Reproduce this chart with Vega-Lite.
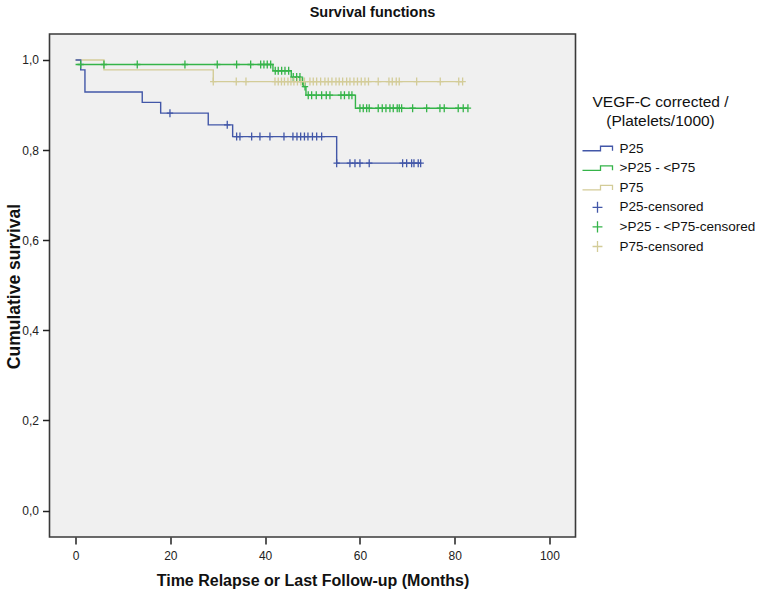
{
  "$schema": "https://vega.github.io/schema/vega-lite/v6.json",
  "width": 526,
  "height": 503,
  "autosize": "none",
  "padding": {"left": 49.5, "top": 34, "right": 181.5, "bottom": 57},
  "background": "white",
  "config": {
    "font": "Liberation Sans",
    "view": {"fill": "#f0f0f0", "stroke": "#3a3a3a", "strokeWidth": 1.6}
  },
  "title": {"text": "Survival functions", "fontSize": 14.5, "fontWeight": "bold", "font": "Liberation Sans", "color": "#111", "anchor": "middle", "dx": 60, "offset": 14},
  "datasets": {
    "curves": [
      {"series": "P25", "t": 0, "S": 1.0},
      {"series": "P25", "t": 1.08, "S": 0.978},
      {"series": "P25", "t": 1.98, "S": 0.929},
      {"series": "P25", "t": 14.07, "S": 0.906},
      {"series": "P25", "t": 17.96, "S": 0.882},
      {"series": "P25", "t": 28.0, "S": 0.856},
      {"series": "P25", "t": 33.15, "S": 0.83},
      {"series": "P25", "t": 55.1, "S": 0.771},
      {"series": "P25", "t": 72.82, "S": 0.771},
      {"series": ">P25 - <P75", "t": 0, "S": 0.99},
      {"series": ">P25 - <P75", "t": 41.65, "S": 0.976},
      {"series": ">P25 - <P75", "t": 45.52, "S": 0.962},
      {"series": ">P25 - <P75", "t": 47.5, "S": 0.952},
      {"series": ">P25 - <P75", "t": 48.09, "S": 0.941},
      {"series": ">P25 - <P75", "t": 48.62, "S": 0.922},
      {"series": ">P25 - <P75", "t": 59.06, "S": 0.893},
      {"series": ">P25 - <P75", "t": 82.8, "S": 0.893},
      {"series": "P75", "t": 0, "S": 1.0},
      {"series": "P75", "t": 5.99, "S": 0.978},
      {"series": "P75", "t": 29.06, "S": 0.952},
      {"series": "P75", "t": 81.68, "S": 0.952}
    ],
    "cens": [
      {"series": "P25-censored", "t": 19.92, "S": 0.882},
      {"series": "P25-censored", "t": 32.01, "S": 0.856},
      {"series": "P25-censored", "t": 33.99, "S": 0.83},
      {"series": "P25-censored", "t": 34.69, "S": 0.83},
      {"series": "P25-censored", "t": 37.16, "S": 0.83},
      {"series": "P25-censored", "t": 38.91, "S": 0.83},
      {"series": "P25-censored", "t": 41.02, "S": 0.83},
      {"series": "P25-censored", "t": 43.98, "S": 0.83},
      {"series": "P25-censored", "t": 45.87, "S": 0.83},
      {"series": "P25-censored", "t": 46.72, "S": 0.83},
      {"series": "P25-censored", "t": 47.5, "S": 0.83},
      {"series": "P25-censored", "t": 48.3, "S": 0.83},
      {"series": "P25-censored", "t": 49.04, "S": 0.83},
      {"series": "P25-censored", "t": 49.99, "S": 0.83},
      {"series": "P25-censored", "t": 50.88, "S": 0.83},
      {"series": "P25-censored", "t": 51.93, "S": 0.83},
      {"series": "P25-censored", "t": 55.1, "S": 0.771},
      {"series": "P25-censored", "t": 57.9, "S": 0.771},
      {"series": "P25-censored", "t": 58.96, "S": 0.771},
      {"series": "P25-censored", "t": 60.01, "S": 0.771},
      {"series": "P25-censored", "t": 61.97, "S": 0.771},
      {"series": "P25-censored", "t": 69.02, "S": 0.771},
      {"series": "P25-censored", "t": 69.87, "S": 0.771},
      {"series": "P25-censored", "t": 70.92, "S": 0.771},
      {"series": "P25-censored", "t": 71.41, "S": 0.771},
      {"series": "P25-censored", "t": 72.31, "S": 0.771},
      {"series": "P25-censored", "t": 72.82, "S": 0.771},
      {"series": ">P25 - <P75-censored", "t": 1.08, "S": 0.99},
      {"series": ">P25 - <P75-censored", "t": 5.99, "S": 0.99},
      {"series": ">P25 - <P75-censored", "t": 13.02, "S": 0.99},
      {"series": ">P25 - <P75-censored", "t": 23.08, "S": 0.99},
      {"series": ">P25 - <P75-censored", "t": 29.9, "S": 0.99},
      {"series": ">P25 - <P75-censored", "t": 33.99, "S": 0.99},
      {"series": ">P25 - <P75-censored", "t": 36.95, "S": 0.99},
      {"series": ">P25 - <P75-censored", "t": 39.06, "S": 0.99},
      {"series": ">P25 - <P75-censored", "t": 39.75, "S": 0.99},
      {"series": ">P25 - <P75-censored", "t": 40.45, "S": 0.99},
      {"series": ">P25 - <P75-censored", "t": 41.17, "S": 0.99},
      {"series": ">P25 - <P75-censored", "t": 42.14, "S": 0.976},
      {"series": ">P25 - <P75-censored", "t": 42.77, "S": 0.976},
      {"series": ">P25 - <P75-censored", "t": 43.49, "S": 0.976},
      {"series": ">P25 - <P75-censored", "t": 44.19, "S": 0.976},
      {"series": ">P25 - <P75-censored", "t": 44.97, "S": 0.976},
      {"series": ">P25 - <P75-censored", "t": 45.94, "S": 0.962},
      {"series": ">P25 - <P75-censored", "t": 46.66, "S": 0.962},
      {"series": ">P25 - <P75-censored", "t": 47.35, "S": 0.962},
      {"series": ">P25 - <P75-censored", "t": 47.92, "S": 0.952},
      {"series": ">P25 - <P75-censored", "t": 48.41, "S": 0.941},
      {"series": ">P25 - <P75-censored", "t": 49.1, "S": 0.922},
      {"series": ">P25 - <P75-censored", "t": 49.82, "S": 0.922},
      {"series": ">P25 - <P75-censored", "t": 50.79, "S": 0.922},
      {"series": ">P25 - <P75-censored", "t": 51.93, "S": 0.922},
      {"series": ">P25 - <P75-censored", "t": 52.9, "S": 0.922},
      {"series": ">P25 - <P75-censored", "t": 53.68, "S": 0.922},
      {"series": ">P25 - <P75-censored", "t": 56.0, "S": 0.922},
      {"series": ">P25 - <P75-censored", "t": 56.74, "S": 0.922},
      {"series": ">P25 - <P75-censored", "t": 57.69, "S": 0.922},
      {"series": ">P25 - <P75-censored", "t": 58.32, "S": 0.922},
      {"series": ">P25 - <P75-censored", "t": 60.01, "S": 0.893},
      {"series": ">P25 - <P75-censored", "t": 60.71, "S": 0.893},
      {"series": ">P25 - <P75-censored", "t": 61.43, "S": 0.893},
      {"series": ">P25 - <P75-censored", "t": 61.97, "S": 0.893},
      {"series": ">P25 - <P75-censored", "t": 63.87, "S": 0.893},
      {"series": ">P25 - <P75-censored", "t": 64.72, "S": 0.893},
      {"series": ">P25 - <P75-censored", "t": 65.5, "S": 0.893},
      {"series": ">P25 - <P75-censored", "t": 66.34, "S": 0.893},
      {"series": ">P25 - <P75-censored", "t": 67.04, "S": 0.893},
      {"series": ">P25 - <P75-censored", "t": 67.88, "S": 0.893},
      {"series": ">P25 - <P75-censored", "t": 68.31, "S": 0.893},
      {"series": ">P25 - <P75-censored", "t": 68.81, "S": 0.893},
      {"series": ">P25 - <P75-censored", "t": 71.13, "S": 0.893},
      {"series": ">P25 - <P75-censored", "t": 74.09, "S": 0.893},
      {"series": ">P25 - <P75-censored", "t": 76.89, "S": 0.893},
      {"series": ">P25 - <P75-censored", "t": 77.8, "S": 0.893},
      {"series": ">P25 - <P75-censored", "t": 80.75, "S": 0.893},
      {"series": ">P25 - <P75-censored", "t": 81.81, "S": 0.893},
      {"series": ">P25 - <P75-censored", "t": 82.8, "S": 0.893},
      {"series": "P75-censored", "t": 29.06, "S": 0.952},
      {"series": "P75-censored", "t": 33.91, "S": 0.952},
      {"series": "P75-censored", "t": 35.96, "S": 0.952},
      {"series": "P75-censored", "t": 42.08, "S": 0.952},
      {"series": "P75-censored", "t": 42.77, "S": 0.952},
      {"series": "P75-censored", "t": 43.45, "S": 0.952},
      {"series": "P75-censored", "t": 44.08, "S": 0.952},
      {"series": "P75-censored", "t": 44.82, "S": 0.952},
      {"series": "P75-censored", "t": 45.45, "S": 0.952},
      {"series": "P75-censored", "t": 46.08, "S": 0.952},
      {"series": "P75-censored", "t": 46.82, "S": 0.952},
      {"series": "P75-censored", "t": 47.56, "S": 0.952},
      {"series": "P75-censored", "t": 48.3, "S": 0.952},
      {"series": "P75-censored", "t": 49.46, "S": 0.952},
      {"series": "P75-censored", "t": 50.16, "S": 0.952},
      {"series": "P75-censored", "t": 50.88, "S": 0.952},
      {"series": "P75-censored", "t": 51.72, "S": 0.952},
      {"series": "P75-censored", "t": 52.62, "S": 0.952},
      {"series": "P75-censored", "t": 53.32, "S": 0.952},
      {"series": "P75-censored", "t": 54.1, "S": 0.952},
      {"series": "P75-censored", "t": 54.95, "S": 0.952},
      {"series": "P75-censored", "t": 55.64, "S": 0.952},
      {"series": "P75-censored", "t": 56.36, "S": 0.952},
      {"series": "P75-censored", "t": 57.21, "S": 0.952},
      {"series": "P75-censored", "t": 57.9, "S": 0.952},
      {"series": "P75-censored", "t": 58.74, "S": 0.952},
      {"series": "P75-censored", "t": 59.49, "S": 0.952},
      {"series": "P75-censored", "t": 60.29, "S": 0.952},
      {"series": "P75-censored", "t": 61.07, "S": 0.952},
      {"series": "P75-censored", "t": 61.81, "S": 0.952},
      {"series": "P75-censored", "t": 63.87, "S": 0.952},
      {"series": "P75-censored", "t": 66.13, "S": 0.952},
      {"series": "P75-censored", "t": 66.83, "S": 0.952},
      {"series": "P75-censored", "t": 67.67, "S": 0.952},
      {"series": "P75-censored", "t": 68.31, "S": 0.952},
      {"series": "P75-censored", "t": 71.98, "S": 0.952},
      {"series": "P75-censored", "t": 76.96, "S": 0.952},
      {"series": "P75-censored", "t": 80.86, "S": 0.952},
      {"series": "P75-censored", "t": 81.68, "S": 0.952}
    ]
  },
  "encoding": {
    "x": {
      "field": "t", "type": "quantitative",
      "scale": {"domain": [-5.5, 105.5], "nice": false, "zero": false},
      "axis": {
        "values": [0, 20, 40, 60, 80, 100], "domain": false, "grid": false,
        "tickSize": 7, "tickColor": "#222", "tickWidth": 1.5,
        "labelFontSize": 12, "labelColor": "#222", "labelPadding": 6, "labelFont": "Liberation Sans",
        "title": "Time Relapse or Last Follow-up (Months)", "titleFontSize": 16, "titleFontWeight": "bold",
        "titlePadding": 11, "titleColor": "#111", "titleFont": "Liberation Sans"
      }
    },
    "y": {
      "field": "S", "type": "quantitative",
      "scale": {"domain": [-0.0588, 1.0577], "nice": false, "zero": false},
      "axis": {
        "values": [0, 0.2, 0.4, 0.6, 0.8, 1.0], "domain": false, "grid": false,
        "tickSize": 7, "tickColor": "#222", "tickWidth": 1.5,
        "labelExpr": "replace(format(datum.value, '.1f'), '.', ',')",
        "labelFontSize": 12, "labelColor": "#222", "labelPadding": 4, "labelFont": "Liberation Sans",
        "title": "Cumulative survival", "titleFontSize": 17.5, "titleFontWeight": "bold",
        "titleX": -30, "titleY": 252, "titleBaseline": "alphabetic", "titleAlign": "center",
        "titleColor": "#111", "titleFont": "Liberation Sans"
      }
    },
    "color": {
      "field": "series", "type": "nominal",
      "scale": {
        "domain": ["P25", ">P25 - <P75", "P75", "P25-censored", ">P25 - <P75-censored", "P75-censored"],
        "range": ["#4257a8", "#35b449", "#d3cc98", "#4257a8", "#35b449", "#d3cc98"]
      },
      "legend": {
        "orient": "none", "legendX": 532, "legendY": 61,
        "title": ["VEGF-C corrected /", "(Platelets/1000)"],
        "titleFontWeight": "normal", "titleFontSize": 15.5, "titleFont": "Liberation Sans", "titleColor": "#111",
        "titleAlign": "center", "titleAnchor": "middle", "titleLineHeight": 19, "titlePadding": 12,
        "labelFont": "Liberation Sans", "labelFontSize": 13.5, "labelColor": "#111", "labelOffset": 6,
        "symbolSize": 900, "clipHeight": 14, "rowPadding": 5.6,
        "encode": {
          "title": {"update": {"dx": {"value": -8}}},
          "symbols": {
            "update": {
              "shape": {"signal": "indexof(datum.value, 'censored') >= 0 ? 'M-0.33,0H0.33M0,-0.37V0.37' : 'M-1,0.15H0.2V-0.15H1V0.15'"},
              "fill": {"value": "transparent"},
              "stroke": {"scale": "color", "field": "value"},
              "strokeWidth": {"value": 1.3},
              "opacity": {"value": 1}
            }
          }
        }
      }
    }
  },
  "layer": [
    {
      "data": {"name": "curves"},
      "transform": [{"filter": "datum.series === 'P75'"}],
      "mark": {"type": "line", "interpolate": "step-after", "strokeWidth": 1.4}
    },
    {
      "data": {"name": "curves"},
      "transform": [{"filter": "datum.series === '>P25 - <P75'"}],
      "mark": {"type": "line", "interpolate": "step-after", "strokeWidth": 1.4}
    },
    {
      "data": {"name": "curves"},
      "transform": [{"filter": "datum.series === 'P25'"}],
      "mark": {"type": "line", "interpolate": "step-after", "strokeWidth": 1.4}
    },
    {
      "data": {"name": "cens"},
      "mark": {"type": "point", "shape": "M-0.8,0H0.8M0,-1V1", "filled": false, "size": 64, "strokeWidth": 1.3, "opacity": 1}
    }
  ]
}
